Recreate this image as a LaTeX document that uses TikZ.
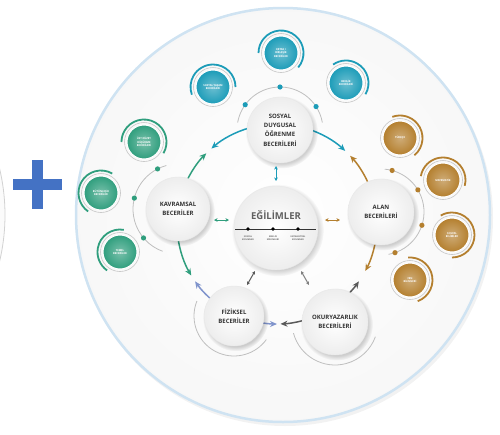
\documentclass[tikz,border=0pt]{standalone}
\usepackage{fontspec}
\setmainfont{Open Sans}
\usetikzlibrary{arrows.meta,calc,shadows}
\definecolor{tealc}{HTML}{1C9CB8}
\definecolor{greenc}{HTML}{2F9E7D}
\definecolor{goldc}{HTML}{B47F2E}
\definecolor{bluec}{HTML}{8094CC}
\definecolor{grayc}{HTML}{5A5A5A}
\definecolor{rimc}{HTML}{CFE3F2}
\definecolor{plusc}{HTML}{4472C4}
\definecolor{txtc}{HTML}{333333}
\tikzset{
  mainc/.style={circle, inner color=white, outer color=gray!14, draw=gray!18, line width=0.4pt,
    align=center, text=txtc, inner sep=0pt,
    font=\fontsize{6}{9.3}\selectfont\bfseries,
    circular drop shadow={shadow xshift=1.5pt, shadow yshift=-2pt, opacity=0.18, fill=black}},
  sdisc/.style={circle, minimum size=34pt, inner sep=0pt, draw=white, line width=1pt,
    align=center, text=white, font=\fontsize{2.6}{3.3}\selectfont\bfseries},
  ringline/.style={gray!50, line width=0.8pt},
  cycarrow/.style={line width=1.5pt, -{Stealth[length=7pt,width=6pt]}},
  dblarrow/.style={line width=1pt, {Stealth[length=3.5pt,width=3.5pt]}-{Stealth[length=3.5pt,width=3.5pt]}},
  egitext/.style={align=center, text=gray!80!black, font=\fontsize{2.2}{2.8}\selectfont\bfseries, inner sep=0pt},
}
\newcommand\smallc[6]{%
  \draw[gray!45, line width=0.6pt] (#2) circle[radius=19.5];
  \node[sdisc, inner color=#3!65!white, outer color=#3] (#1) at (#2) {#4};
  \draw[#3, line width=1.8pt] ($(#1.center)+({-1*(#5)}:22.5)$) arc[start angle={-1*(#5)}, end angle={-1*(#6)}, radius=22.5];
}
\newcommand\cycarc[3]{%
  \draw[cycarrow, #1] ($(cyc)+({-1*(#2)}:100)$) arc[start angle={-1*(#2)}, end angle={-1*(#3)}, radius=100];
}
\newcommand\ringarc[4]{%
  \draw[ringline] ($(#1)+({-1*(#3)}:#2)$) arc[start angle={-1*(#3)}, end angle={-1*(#4)}, radius=#2];
}
\newcommand\ringdot[4]{%
  \fill[#4] ($(#1)+({-1*(#3)}:#2)$) circle[radius=2.6];
}
\begin{document}
\begin{tikzpicture}[x=1pt,y=-1pt]
\useasboundingbox (0,0) rectangle (500,434);
% left partial circle
\draw[gray!35, line width=0.8pt, fill=gray!3] (-195,215) circle[radius=200];
% plus
\fill[plusc] (13,179) rectangle (62,190);
\fill[plusc] (32,160) rectangle (43,209);
% big circle
\fill[gray!10] (285,218) circle[radius=208];
\shade[inner color=white, outer color=gray!6] (283,215) circle[radius=208];
\draw[rimc, line width=2.5pt] (283,215) circle[radius=207];

% centres
\coordinate (cyc) at (277,224);
\coordinate (sdeC) at (280,130);
\coordinate (kavC) at (178,209);
\coordinate (egiC) at (276,228);
\coordinate (alanC) at (381,212);
\coordinate (fizC) at (234,316);
\coordinate (okuC) at (335,322);

% cycle arrows
\cycarc{tealc}{106}{131}
\cycarc{greenc}{155}{135}
\cycarc{tealc}{72}{47}
\cycarc{goldc}{25}{43}
\cycarc{greenc}{188}{211}
\cycarc{bluec}{230}{215}
\cycarc{goldc}{-10}{-28}
\cycarc{grayc}{-45}{-35}
\cycarc{bluec}{258}{270}
\cycarc{grayc}{-75}{-88}

% rings
\ringarc{sdeC}{43}{10}{170}
\ringdot{sdeC}{43}{144}{tealc}
\ringdot{sdeC}{43}{90}{tealc}
\ringdot{sdeC}{43}{33}{tealc}
\ringarc{kavC}{45}{105}{250}
\ringdot{kavC}{45}{117}{greenc}
\ringdot{kavC}{45}{166}{greenc}
\ringdot{kavC}{45}{220}{greenc}
\ringarc{alanC}{43}{-80}{85}
\ringdot{alanC}{43}{75}{goldc}
\ringdot{alanC}{43}{31}{goldc}
\ringdot{alanC}{43}{-18}{goldc}
\ringdot{alanC}{43}{-71}{goldc}
\ringarc{fizC}{40}{158}{324}
\ringarc{okuC}{43}{195}{340}

% main nodes
\node[mainc, minimum size=66pt] (sde) at (sdeC) {SOSYAL\\DUYGUSAL\\ÖĞRENME\\BECERİLERİ};
\node[mainc, minimum size=64pt] (kav) at (kavC) {KAVRAMSAL\\BECERİLER};
\node[mainc, minimum size=66pt] (alan) at (alanC) {ALAN\\BECERİLERİ};
\node[mainc, minimum size=60pt] (fiz) at (fizC) {FİZİKSEL\\BECERİLER};
\node[mainc, minimum size=66pt] (oku) at (okuC) {OKURYAZARLIK\\BECERİLERİ};
\node[mainc, minimum size=84pt] (egi) at (egiC) {};
\node[text=gray!75!black, font=\fontsize{9.5}{11}\selectfont\bfseries] (egit) at (276,215) {EĞİLİMLER};
\coordinate (eL) at (235,229);
\coordinate (eR) at (316,229);
\draw[black!80, line width=0.8pt] (eL) -- (eR);
\fill[black] (248,229) circle[radius=1.8];
\fill[black] (273,229) circle[radius=1.8];
\fill[black] (298,229) circle[radius=1.8];
\node[egitext] (e1) at (248,238) {SOSYAL\\EĞİLİMLER};
\node[egitext] (e2) at (273,238) {BENLİK\\EĞİLİMLERİ};
\node[egitext] (e3) at (298,238) {ENTELEKTÜEL\\EĞİLİMLER};

% small double arrows
\coordinate (dt1) at (276,166); \coordinate (dt2) at (276,181);
\coordinate (dl1) at (214,220); \coordinate (dl2) at (229,220);
\coordinate (dr1) at (325,220); \coordinate (dr2) at (340,220);
\coordinate (dbl1) at (255,271); \coordinate (dbl2) at (247,285);
\coordinate (dbr1) at (301,271); \coordinate (dbr2) at (309,285);
\draw[dblarrow, tealc] (dt1) -- (dt2);
\draw[dblarrow, greenc] (dl1) -- (dl2);
\draw[dblarrow, goldc] (dr1) -- (dr2);
\draw[dblarrow, grayc] (dbl1) -- (dbl2);
\draw[dblarrow, gray] (dbr1) -- (dbr2);

% small circles
\smallc{ortak}{281,53}{tealc}{ORTAK /\\BİRLEŞİK\\BECERİLER}{-40}{180}
\smallc{benlik}{346,83}{tealc}{BENLİK\\BECERİLERİ}{-30}{125}
\smallc{syasam}{213,87}{tealc}{SOSYAL YAŞAM\\BECERİLERİ}{0}{200}
\smallc{ustd}{144,142}{greenc}{ÜST DÜZEY\\DÜŞÜNME\\BECERİLERİ}{-30}{180}
\smallc{butun}{101,193}{greenc}{BÜTÜNLEŞİK\\BECERİLER}{60}{235}
\smallc{temel}{120,252}{greenc}{TEMEL\\BECERİLER}{80}{235}
\smallc{turk}{400,138}{goldc}{TÜRKÇE}{-50}{110}
\smallc{mat}{443,180}{goldc}{MATEMATİK}{-15}{170}
\smallc{sosb}{452,235}{goldc}{SOSYAL\\BİLİMLER}{-90}{120}
\smallc{fen}{410,280}{goldc}{FEN\\BİLİMLERİ}{-70}{95}
\end{tikzpicture}
\end{document}
